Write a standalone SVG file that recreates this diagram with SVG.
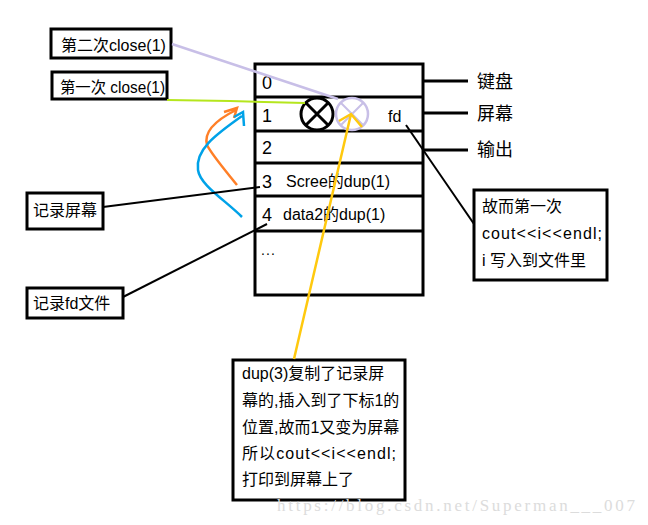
<svg xmlns="http://www.w3.org/2000/svg" width="648" height="525" viewBox="0 0 648 525">
<style>
text{font-family:"Liberation Sans","Noto Sans CJK SC",sans-serif;fill:#000}
.box{fill:#fff;stroke:#000;stroke-width:3}
.t16{font-size:16px}
.t18{font-size:18px}
.ln{stroke:#000;stroke-width:2;fill:none}
.tl{stroke:#000;stroke-width:3;fill:none}
</style>
<rect width="648" height="525" fill="#fff"/>
<g id="table">
<rect x="255" y="64" width="168" height="231" class="tl"/>
<path d="M255 97H423M255 131H423M255 163H423M255 196H423M255 231H423" class="tl"/>
<text x="262" y="89" class="t18">0</text>
<text x="262" y="122" class="t18">1</text>
<text x="262" y="154" class="t18">2</text>
<text x="262" y="188" class="t18">3</text>
<text x="262" y="221" class="t18">4</text>
<text x="286" y="187" class="t16">Scree的dup(1)</text>
<text x="283" y="220" class="t16">data2的dup(1)</text>
<text x="261" y="255" style="font-size:14px" textLength="14" lengthAdjust="spacing">...</text>
<text x="388" y="122" class="t16">fd</text>
</g>
<g id="circle-black">
<circle cx="317" cy="114" r="16" fill="none" stroke="#000" stroke-width="3"/>
<path d="M306 103L328 125M328 103L306 125" stroke="#000" stroke-width="3"/>
</g>
<g id="circle-lavender">
<circle cx="352" cy="114" r="16" fill="none" stroke="#c8bfe7" stroke-width="2.5"/>
<path d="M341 103L363 125M363 103L341 125" stroke="#c8bfe7" stroke-width="2"/>
</g>
<g id="labels-right">
<path d="M423 81H468M423 113H468M423 150H468" class="tl"/>
<text x="477" y="88" class="t18">键盘</text>
<text x="477" y="120" class="t18">屏幕</text>
<text x="477" y="156" class="t18">输出</text>
</g>
<g id="close2">
<rect x="51" y="29" width="120" height="29" class="box"/>
<text x="61" y="51" class="t16">第二次close(1)</text>
</g>
<g id="close1">
<rect x="52" y="72" width="115" height="27" class="box"/>
<text x="60" y="93" class="t16" textLength="105" lengthAdjust="spacingAndGlyphs">第一次 close(1)</text>
</g>
<g id="rec-screen">
<rect x="27" y="193" width="76" height="36" class="box"/>
<text x="33" y="216" class="t16">记录屏幕</text>
</g>
<g id="rec-fd">
<rect x="27" y="288" width="96" height="30" class="box"/>
<text x="33" y="309" class="t16">记录fd文件</text>
</g>
<g id="note-right">
<rect x="474" y="190" width="133" height="90" class="box"/>
<text x="482" y="212" class="t16">故而第一次</text>
<text x="482" y="239" class="t16" textLength="120" lengthAdjust="spacing">cout&lt;&lt;i&lt;&lt;endl;</text>
<text x="482" y="266" class="t16"> i 写入到文件里</text>
</g>
<g id="note-bottom">
<rect x="233" y="360" width="172" height="140" class="box"/>
<text x="242" y="379" class="t16">dup(3)复制了记录屏</text>
<text x="242" y="406" class="t16">幕的,插入到了下标1的</text>
<text x="242" y="433" class="t16">位置,故而1又变为屏幕</text>
<text x="242" y="459" class="t16" textLength="154" lengthAdjust="spacing">所以cout&lt;&lt;i&lt;&lt;endl;</text>
<text x="242" y="485" class="t16">打印到屏幕上了</text>
</g>
<g id="connectors">
<path d="M172 44L338 99" stroke="#c8bfe7" stroke-width="2.5" fill="none"/>
<path d="M167 100L230 101L305 103" stroke="#b5e61d" stroke-width="2" fill="none"/>
<path d="M237 185C225 170 212 155 207 145C203 130 220 118 236 110M224 112L237 108L234 118" stroke="#ff7f27" stroke-width="2.5" fill="none"/>
<path d="M242 217C225 200 200 185 198 170C195 150 215 135 242 116M234 117L243 112L244 126" stroke="#00a2e8" stroke-width="2.5" fill="none"/>
<path d="M294 359L351 114M339 121L351 114L362 127" stroke="#ffc90e" stroke-width="2.5" fill="none"/>
<path d="M406 125L474 224" class="ln"/>
<path d="M103 207L260 187" class="ln"/>
<path d="M123 297L267 224" class="ln"/>
</g>
<text x="277" y="511" style="font-family:'Liberation Serif',serif;font-size:17px;fill:#dcdcdc" textLength="358" lengthAdjust="spacing">https://blog.csdn.net/Superman___007</text>
</svg>
